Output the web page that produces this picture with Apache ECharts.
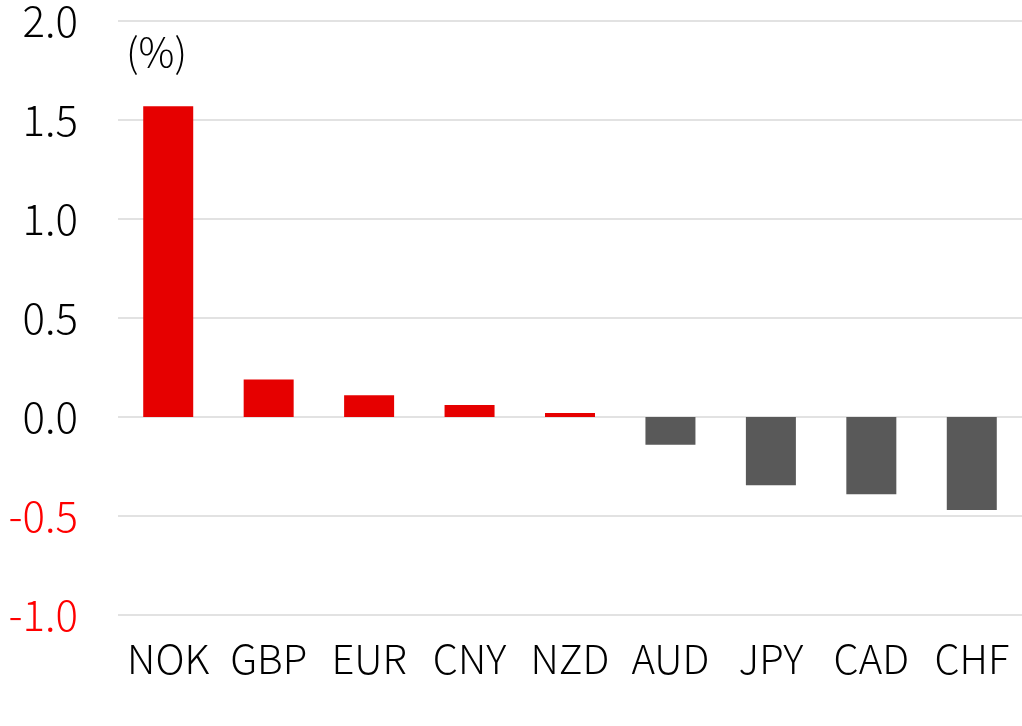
<!DOCTYPE html>
<html>
<head>
<meta charset="utf-8">
<script src="https://cdn.jsdelivr.net/npm/echarts@6/dist/echarts.min.js"></script>
<style>html,body{margin:0;padding:0;background:#fff}#c{width:1022px;height:726px}</style>
</head>
<body>
<div id="c"></div>
<script>
const categories = ['NOK','GBP','EUR','CNY','NZD','AUD','JPY','CAD','CHF'];
const values = [1.57, 0.19, 0.11, 0.06, 0.02, -0.14, -0.345, -0.39, -0.47];
const yTicks = [-1.0, -0.5, 0.0, 0.5, 1.0, 1.5, 2.0];
const unitLabel = '(%)';

const FONT = "'Noto Sans CJK JP', 'Noto Sans', sans-serif";
const chart = echarts.init(document.getElementById('c'), null, {renderer: 'canvas'});
chart.setOption({
  animation: false,
  backgroundColor: '#ffffff',
  grid: {left: 118, right: 0, top: 20, bottom: 111, containLabel: false},
  xAxis: {
    type: 'category',
    data: categories,
    axisLine: {show: false},
    axisTick: {show: false},
    axisLabel: {interval: 0, hideOverlap: false, color: '#000', fontSize: 40, fontFamily: FONT, fontWeight: 300, margin: 24}
  },
  yAxis: {
    type: 'value',
    min: yTicks[0],
    max: yTicks[yTicks.length - 1],
    interval: 0.5,
    axisLine: {show: false},
    axisTick: {show: false},
    splitLine: {lineStyle: {color: '#d9d9d9', width: 1.5}},
    axisLabel: {
      fontSize: 42, fontFamily: FONT, fontWeight: 300, margin: 40,
      formatter: v => v.toFixed(1),
      color: v => (parseFloat(v) < 0 ? '#ff0000' : '#000000')
    }
  },
  graphic: [{
    type: 'text', left: 126, top: 32,
    style: {text: unitLabel, fontSize: 40, fontFamily: FONT, fontWeight: 300, fill: '#000'}
  }],
  series: [{
    type: 'bar',
    data: values,
    barWidth: 50,
    itemStyle: {color: p => (p.value >= 0 ? '#e60000' : '#595959')}
  }]
});
</script>
</body>
</html>
